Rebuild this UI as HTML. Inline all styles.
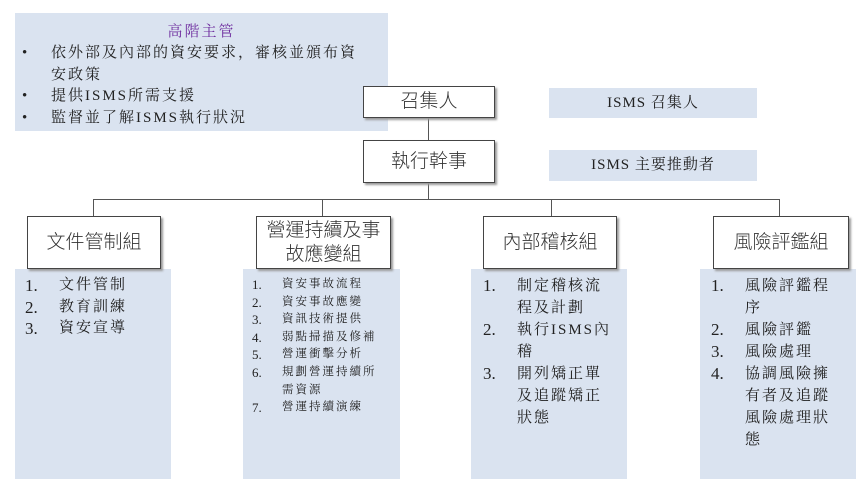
<!DOCTYPE html>
<html><head><meta charset="utf-8"><style>
body{margin:0;width:865px;height:487px;background:#fff;position:relative;overflow:hidden;font-family:"Liberation Serif","Noto Serif CJK SC",serif;color:#222}
.a{position:absolute}
.blue{background:#dae3f0}
.box{position:absolute;background:#fff;border:1px solid #444;box-shadow:2px 2px 2px #999;box-sizing:border-box;display:flex;align-items:center;justify-content:center;text-align:center;font-family:"Liberation Sans","Noto Sans CJK TC",sans-serif;font-weight:300;font-size:19px;line-height:24px;color:#333}
.ln{position:absolute;background:#555}
.list{position:absolute;font-size:15px;line-height:22px;letter-spacing:2px}
.list div{position:relative;padding-left:34px}
.list span{position:absolute;left:0;letter-spacing:0;font-size:17px}
.sm{font-size:11.5px;line-height:17.6px}
.sm div{padding-left:30px}
.sm span{font-size:13px}
</style></head><body>
<div class="a blue" style="left:15px;top:13px;width:373px;height:118px"></div>
<div class="a" style="left:15px;top:20px;width:373px;text-align:center;color:#7030a0;font-size:15px;letter-spacing:2px">高階主管</div>
<div class="a" style="left:22px;top:43px;font-size:15px;line-height:21.5px;letter-spacing:2px">
<div style="position:relative;padding-left:29px">依外部及內部的資安要求，審核並頒布資<br>安政策<span style="position:absolute;left:0;top:0">•</span></div>
<div style="position:relative;padding-left:29px">提供ISMS所需支援<span style="position:absolute;left:0;top:0">•</span></div>
<div style="position:relative;padding-left:29px">監督並了解ISMS執行狀況<span style="position:absolute;left:0;top:0">•</span></div>
</div>

<div class="ln" style="left:428px;top:118px;width:1px;height:82px"></div>
<div class="ln" style="left:93px;top:199px;width:687px;height:1px"></div>
<div class="ln" style="left:93px;top:199px;width:1px;height:17px"></div>
<div class="ln" style="left:322px;top:199px;width:1px;height:17px"></div>
<div class="ln" style="left:551px;top:199px;width:1px;height:17px"></div>
<div class="ln" style="left:779px;top:199px;width:1px;height:17px"></div>

<div class="box" style="left:363px;top:86px;width:132px;height:32px">召集人</div>
<div class="box" style="left:363px;top:140px;width:132px;height:43px">執行幹事</div>

<div class="a blue" style="left:549px;top:88px;width:208px;height:30px;text-align:center;line-height:30px;font-size:15px;letter-spacing:1px">ISMS 召集人</div>
<div class="a blue" style="left:549px;top:150px;width:208px;height:31px;text-align:center;line-height:31px;font-size:15px;letter-spacing:1px">ISMS 主要推動者</div>

<div class="a blue" style="left:15px;top:269px;width:156px;height:210px"></div>
<div class="a blue" style="left:243px;top:269px;width:157px;height:210px"></div>
<div class="a blue" style="left:471px;top:269px;width:156px;height:210px"></div>
<div class="a blue" style="left:700px;top:269px;width:156px;height:210px"></div>

<div class="box" style="left:27px;top:216px;width:134px;height:53px">文件管制組</div>
<div class="box" style="left:256px;top:216px;width:135px;height:53px">營運持續及事<br>故應變組</div>
<div class="box" style="left:483px;top:216px;width:134px;height:53px">內部稽核組</div>
<div class="box" style="left:713px;top:216px;width:136px;height:53px">風險評鑑組</div>

<div class="list" style="left:25px;top:275px;line-height:21.5px">
<div><span>1.</span>文件管制</div><div><span>2.</span>教育訓練</div><div><span>3.</span>資安宣導</div>
</div>
<div class="list sm" style="left:252px;top:276px">
<div><span>1.</span>資安事故流程</div><div><span>2.</span>資安事故應變</div><div><span>3.</span>資訊技術提供</div><div><span>4.</span>弱點掃描及修補</div><div><span>5.</span>營運衝擊分析</div><div><span>6.</span>規劃營運持續所<br>需資源</div><div><span>7.</span>營運持續演練</div>
</div>
<div class="list" style="left:483px;top:275px">
<div><span>1.</span>制定稽核流<br>程及計劃</div><div><span>2.</span>執行ISMS內<br>稽</div><div><span>3.</span>開列矯正單<br>及追蹤矯正<br>狀態</div>
</div>
<div class="list" style="left:711px;top:275px">
<div><span>1.</span>風險評鑑程<br>序</div><div><span>2.</span>風險評鑑</div><div><span>3.</span>風險處理</div><div><span>4.</span>協調風險擁<br>有者及追蹤<br>風險處理狀<br>態</div>
</div>
</body></html>
